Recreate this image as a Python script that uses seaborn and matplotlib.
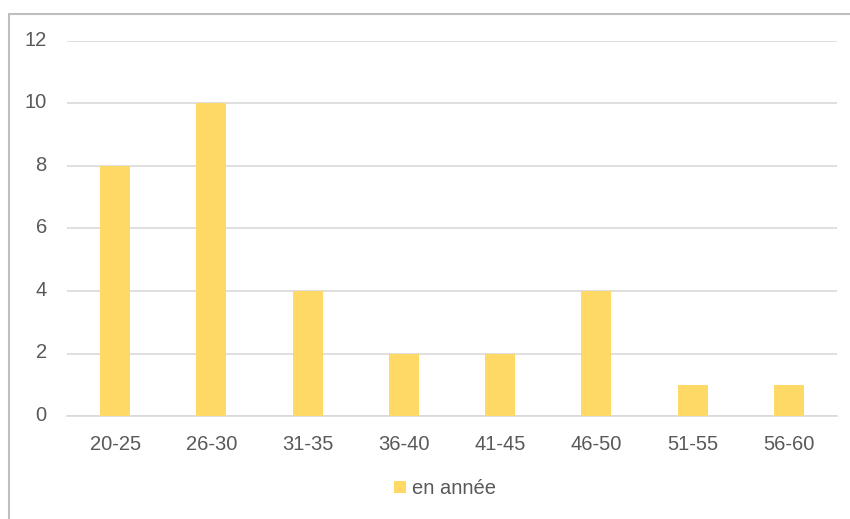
import matplotlib
matplotlib.use("Agg")
import matplotlib.pyplot as plt
import matplotlib.patches as mpatches
import matplotlib.transforms as mtransforms
import seaborn as sns
import pandas as pd

tranches = ["20-25", "26-30", "31-35", "36-40", "41-45", "46-50", "51-55", "56-60"]
effectifs = [8, 10, 4, 2, 2, 4, 1, 1]
serie = "en année"
y_ticks = [0, 2, 4, 6, 8, 10, 12]

bar_color = "#FFD966"
text_color = "#595959"
grid_color = "#D9D9D9"
fs = 14.5

sns.set_theme(style="white")
plt.rcParams["font.family"] = ["Liberation Sans", "DejaVu Sans"]

W, H = 850, 519
fig = plt.figure(figsize=(W / 100, H / 100), dpi=100)
fig.patch.set_facecolor("white")

ax = fig.add_axes([67 / W, (H - 416) / H, (837 - 67) / W, (416 - 41) / H])

df = pd.DataFrame({"tranche": tranches, "n": effectifs, "serie": serie})
sns.barplot(data=df, x="tranche", y="n", color=bar_color, width=0.31,
            saturation=1, linewidth=0, ax=ax, zorder=3)

ax.set_ylim(0, 12)
ax.set_xlim(-0.5, len(tranches) - 0.5)
ax.set_yticks(y_ticks)
ax.yaxis.grid(True, color=grid_color, linewidth=1.2, zorder=0)
ax.xaxis.grid(False)
for s in ["top", "right", "left"]:
    ax.spines[s].set_visible(False)
ax.spines["bottom"].set_color(grid_color)
ax.spines["bottom"].set_linewidth(1.2)
ax.set_xlabel("")
ax.set_ylabel("")
ax.tick_params(axis="y", length=0, pad=14.5, labelsize=fs, labelcolor=text_color)
ax.tick_params(axis="x", length=0, pad=14, labelsize=fs, labelcolor=text_color)

# lift the value labels slightly above their gridlines
lift = mtransforms.ScaledTranslation(0, 2 / 72, fig.dpi_scale_trans)
for lbl in ax.get_yticklabels():
    lbl.set_transform(lbl.get_transform() + lift)

# outer frame of the chart area
frame = mpatches.Rectangle((9 / W, -0.05), 1.2, (H - 14) / H + 0.05,
                           transform=fig.transFigure, fill=False,
                           edgecolor="#BFBFBF", linewidth=1.5, clip_on=False)
fig.patches.append(frame)

handle = mpatches.Patch(facecolor=bar_color, edgecolor="none", label=serie)
fig.legend(handles=[handle], loc="center", bbox_to_anchor=(445 / W, (H - 489) / H),
           frameon=False, fontsize=fs, labelcolor=text_color,
           handlelength=0.55, handleheight=0.55, handletextpad=0.3)

fig.savefig("out.png", dpi=100)
